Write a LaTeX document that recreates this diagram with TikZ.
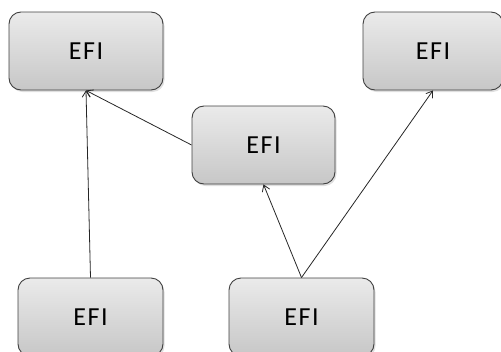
\documentclass[tikz,border=0pt]{standalone}
\usepackage{fontspec}
\setmainfont{Carlito}
\usetikzlibrary{arrows.meta,shadows}
\begin{document}
\begin{tikzpicture}[x=1pt,y=-1pt,
  efibox/.style={draw=black!75, line width=0.9pt, rounded corners=12pt,
    top color=black!8, bottom color=black!22,
    drop shadow={shadow xshift=1.5pt, shadow yshift=-2pt, opacity=0.25},
    minimum height=78pt, inner sep=0pt,
    font=\addfontfeatures{LetterSpace=6}\fontsize{26}{30}\selectfont},
  link/.style={draw=black!85, line width=0.8pt, -{Straight Barb[length=6pt,width=8pt]}}]
  \clip (0,0) rectangle (501,351);
  \useasboundingbox (0,0) rectangle (501,351);
  \node[efibox, minimum width=154pt] (a) at (86,51) {EFI};
  \node[efibox, minimum width=143pt] (b) at (263.5,145) {EFI};
  \node[efibox, minimum width=140pt] (c) at (433,51) {EFI};
  \node[efibox, minimum width=145pt] (d) at (90.5,317) {EFI};
  \node[efibox, minimum width=145pt] (e) at (301.5,317) {EFI};
  \draw[link] (d.north) -- (a.south);
  \draw[link] (b.west) -- (a.south);
  \draw[link] (e.north) -- (b.south);
  \draw[link] (e.north) -- (c.south);
\end{tikzpicture}
\end{document}
